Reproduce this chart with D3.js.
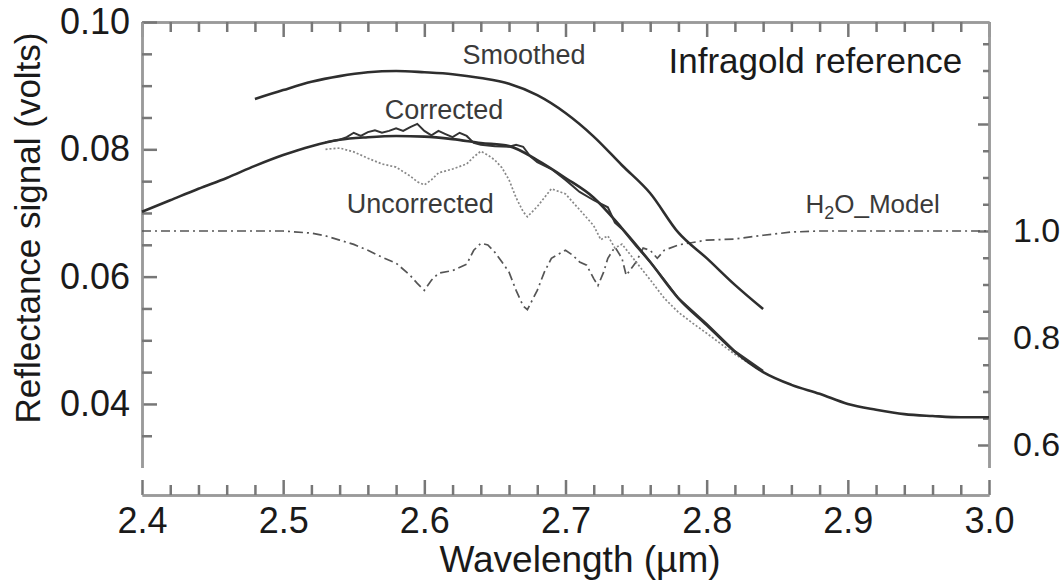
<!DOCTYPE html>
<html>
<head>
<meta charset="utf-8">
<script src="https://cdn.jsdelivr.net/npm/d3@7"></script>
<style>
    body { margin: 0; background: #fff; }
    svg { font-family: "Liberation Sans", Arial, Helvetica, sans-serif; }
</style>
</head>
<body>
<div class="chart"></div>
<script>
// reference curve (thick, full range)
const refWavelength = [2.40, 2.42, 2.44, 2.46, 2.48, 2.50, 2.52, 2.54, 2.56, 2.58, 2.60, 2.62, 2.64, 2.66, 2.68, 2.70, 2.72, 2.74, 2.76, 2.78, 2.80, 2.82, 2.84, 2.86, 2.88, 2.90, 2.92, 2.94, 2.96, 2.98, 3.00];
const refSignal = [0.0702, 0.0720, 0.0738, 0.0755, 0.0774, 0.0791, 0.0805, 0.0815, 0.0819, 0.0821, 0.0820, 0.0816, 0.0810, 0.0805, 0.0783, 0.0755, 0.0724, 0.0676, 0.0623, 0.0566, 0.0524, 0.0482, 0.0450, 0.0430, 0.0416, 0.0400, 0.0391, 0.0384, 0.0381, 0.0379, 0.0379];

// smoothed
const smoothWavelength = [2.48, 2.50, 2.52, 2.54, 2.56, 2.58, 2.60, 2.62, 2.64, 2.66, 2.68, 2.70, 2.72, 2.74, 2.76, 2.78, 2.80, 2.82, 2.84];
const smoothSignal = [0.0879, 0.0893, 0.0906, 0.0915, 0.0921, 0.0923, 0.0921, 0.0918, 0.0912, 0.0903, 0.0885, 0.0857, 0.0820, 0.0775, 0.0731, 0.0669, 0.0629, 0.0587, 0.0549];

// corrected
const corrWavelength = [2.530, 2.535, 2.540, 2.545, 2.550, 2.555, 2.560, 2.565, 2.570, 2.575, 2.580, 2.585, 2.590, 2.595, 2.600, 2.605, 2.610, 2.615, 2.620, 2.625, 2.630, 2.635, 2.640, 2.650, 2.660, 2.665, 2.670, 2.675, 2.680, 2.690, 2.700, 2.710, 2.720, 2.730, 2.735, 2.740, 2.750, 2.760, 2.770, 2.780, 2.800, 2.820, 2.840];
const corrSignal = [0.0811, 0.0813, 0.0815, 0.0819, 0.0826, 0.0821, 0.0827, 0.0830, 0.0826, 0.0829, 0.0833, 0.0829, 0.0835, 0.0840, 0.0829, 0.0822, 0.0829, 0.0824, 0.0819, 0.0826, 0.0821, 0.0810, 0.0807, 0.0805, 0.0804, 0.0807, 0.0804, 0.0789, 0.0780, 0.0769, 0.0752, 0.0733, 0.0720, 0.0709, 0.0685, 0.0675, 0.0648, 0.0623, 0.0595, 0.0566, 0.0526, 0.0483, 0.0452];

// uncorrected
const uncorrWavelength = [2.530, 2.540, 2.550, 2.560, 2.570, 2.580, 2.590, 2.595, 2.600, 2.605, 2.610, 2.620, 2.630, 2.635, 2.640, 2.645, 2.650, 2.655, 2.660, 2.665, 2.670, 2.673, 2.680, 2.690, 2.700, 2.710, 2.720, 2.725, 2.730, 2.735, 2.740, 2.750, 2.760, 2.770, 2.780, 2.790, 2.800, 2.820, 2.840];
const uncorrSignal = [0.0800, 0.0802, 0.0796, 0.0786, 0.0777, 0.0772, 0.0758, 0.0749, 0.0744, 0.0752, 0.0763, 0.0769, 0.0777, 0.0788, 0.0797, 0.0791, 0.0783, 0.0771, 0.0752, 0.0724, 0.0702, 0.0694, 0.0710, 0.0738, 0.0730, 0.0705, 0.0680, 0.0658, 0.0664, 0.0645, 0.0651, 0.0623, 0.0595, 0.0566, 0.0544, 0.0527, 0.0511, 0.0478, 0.0450];

// H2O model transmission (right axis)
const h2oWavelength = [2.40, 2.50, 2.52, 2.53, 2.54, 2.55, 2.56, 2.57, 2.58, 2.59, 2.595, 2.60, 2.605, 2.61, 2.62, 2.63, 2.635, 2.64, 2.645, 2.65, 2.655, 2.66, 2.665, 2.67, 2.673, 2.68, 2.685, 2.69, 2.70, 2.705, 2.71, 2.715, 2.72, 2.723, 2.727, 2.73, 2.735, 2.74, 2.743, 2.75, 2.755, 2.76, 2.765, 2.77, 2.78, 2.80, 2.82, 2.84, 2.86, 2.88, 3.00];
const h2oModel = [1.000, 1.000, 0.996, 0.991, 0.983, 0.975, 0.964, 0.951, 0.940, 0.917, 0.902, 0.889, 0.908, 0.921, 0.926, 0.938, 0.964, 0.977, 0.974, 0.960, 0.942, 0.923, 0.889, 0.860, 0.853, 0.889, 0.923, 0.949, 0.964, 0.955, 0.942, 0.936, 0.911, 0.898, 0.923, 0.949, 0.970, 0.949, 0.917, 0.942, 0.968, 0.964, 0.949, 0.964, 0.974, 0.983, 0.985, 0.992, 0.998, 1.000, 1.000];

// ticks
const xMajorTicks = [2.4, 2.5, 2.6, 2.7, 2.8, 2.9, 3.0];
const xTickLabels = ["2.4", "2.5", "2.6", "2.7", "2.8", "2.9", "3.0"];
const leftMajorTicks = [0.04, 0.06, 0.08, 0.10];
const leftTickLabels = ["0.04", "0.06", "0.08", "0.10"];
const rightMajorTicks = [0.6, 0.8, 1.0, 1.2];
const rightTickLabels = ["0.6", "0.8", "1.0", ""];

// curve labels [text, wavelength, signal]
const curveLabels = [
    ["Smoothed", 2.627, 0.0934],
    ["Corrected", 2.572, 0.0848],
    ["Uncorrected", 2.545, 0.0700]
];

drawChart();

function drawChart() {
    const width = 1062;
    const height = 580;

    const svg = d3.select(".chart")
        .append("svg")
        .attr("width", width)
        .attr("height", height);

    const x = d3.scaleLinear().domain([2.4, 3.0]).range([142, 989]);
    const y = d3.scaleLinear().domain([0.03, 0.10]).range([467.6, 22]);
    const yRight = d3.scaleLinear().domain([0.6, 1.0]).range([445, 231]);
    const xAxisY = 495;

    const xMinor = d3.range(2.42, 3.0, 0.02).filter(v => Math.abs(v * 10 - Math.round(v * 10)) > 0.01);
    const leftMinor = d3.range(0.035, 0.10, 0.005).filter(v => Math.abs(v * 50 - Math.round(v * 50)) > 0.01);
    const rightMinor = d3.range(0.65, 1.4, 0.05).filter(v => Math.abs(v * 5 - Math.round(v * 5)) > 0.01);

    function styleAxis(g) {
        g.select(".domain").attr("stroke", "#9a9a9a").attr("stroke-width", 2.5);
        g.selectAll(".tick line").attr("stroke", "#777").attr("stroke-width", 2.5);
        g.selectAll(".tick text")
            .attr("fill", "#1a1a1a")
            .style("font-size", "36px");
    }

    // bottom axis
    svg.append("g").attr("transform", `translate(0,${xAxisY})`)
        .call(d3.axisBottom(x).tickValues(xMajorTicks)
            .tickFormat((d, i) => xTickLabels[i])
            .tickSizeInner(-15).tickSizeOuter(0).tickPadding(12))
        .call(styleAxis);
    svg.append("g").attr("transform", `translate(0,${xAxisY})`)
        .call(d3.axisBottom(x).tickValues(xMinor).tickFormat("").tickSizeInner(-10).tickSizeOuter(0))
        .call(styleAxis);

    // top axis
    svg.append("g").attr("transform", "translate(0,22)")
        .call(d3.axisTop(x).tickValues(xMajorTicks).tickFormat("").tickSizeInner(-15).tickSizeOuter(0))
        .call(styleAxis);
    svg.append("g").attr("transform", "translate(0,22)")
        .call(d3.axisTop(x).tickValues(xMinor).tickFormat("").tickSizeInner(-10).tickSizeOuter(0))
        .call(styleAxis);

    // left axis
    svg.append("g").attr("transform", "translate(142,0)")
        .call(d3.axisLeft(y).tickValues(leftMajorTicks)
            .tickFormat((d, i) => leftTickLabels[i])
            .tickSizeInner(-15).tickSizeOuter(0).tickPadding(12))
        .call(styleAxis);
    svg.append("g").attr("transform", "translate(142,0)")
        .call(d3.axisLeft(y).tickValues(leftMinor).tickFormat("").tickSizeInner(-10).tickSizeOuter(0))
        .call(styleAxis);

    // right axis (H2O model transmission)
    const yRightFull = yRight.copy().domain([yRight.invert(467.6), yRight.invert(22)]).range([467.6, 22]);
    const right = svg.append("g").attr("transform", "translate(989,0)")
        .call(d3.axisRight(yRightFull).tickValues(rightMajorTicks)
            .tickFormat((d, i) => rightTickLabels[i])
            .tickSizeInner(-11).tickSizeOuter(0).tickPadding(24))
        .call(styleAxis);
    right.selectAll(".tick text").style("font-size", "34px");
    svg.append("g").attr("transform", "translate(989,0)")
        .call(d3.axisRight(yRightFull).tickValues(rightMinor).tickFormat("").tickSizeInner(-6).tickSizeOuter(0))
        .call(styleAxis);

    // curves
    const lineLeft = d3.line().x(d => x(d[0])).y(d => y(d[1]));
    const lineRight = d3.line().x(d => x(d[0])).y(d => yRight(d[1]));
    const smoothLine = d3.line().curve(d3.curveMonotoneX).x(d => x(d[0])).y(d => y(d[1]));

    svg.append("path")
        .datum(d3.zip(h2oWavelength, h2oModel))
        .attr("d", lineRight)
        .attr("fill", "none")
        .attr("stroke", "#555")
        .attr("stroke-width", 1.7)
        .attr("stroke-dasharray", "9,4,2,4");

    svg.append("path")
        .datum(d3.zip(uncorrWavelength, uncorrSignal))
        .attr("d", lineLeft)
        .attr("fill", "none")
        .attr("stroke", "#888")
        .attr("stroke-width", 1.7)
        .attr("stroke-dasharray", "2,2");

    svg.append("path")
        .datum(d3.zip(refWavelength, refSignal))
        .attr("d", smoothLine)
        .attr("fill", "none")
        .attr("stroke", "#2e2e2e")
        .attr("stroke-width", 2.6);

    svg.append("path")
        .datum(d3.zip(corrWavelength, corrSignal))
        .attr("d", lineLeft)
        .attr("fill", "none")
        .attr("stroke", "#333")
        .attr("stroke-width", 2);

    svg.append("path")
        .datum(d3.zip(smoothWavelength, smoothSignal))
        .attr("d", smoothLine)
        .attr("fill", "none")
        .attr("stroke", "#2e2e2e")
        .attr("stroke-width", 2.6);

    // labels on curves
    svg.selectAll(".curve-label")
        .data(curveLabels)
        .enter()
        .append("text")
        .attr("class", "curve-label")
        .attr("x", d => x(d[1]))
        .attr("y", d => y(d[2]))
        .text(d => d[0])
        .style("font-size", "27px")
        .attr("fill", "#3a3a3a");

    const h2oLabel = svg.append("text")
        .attr("x", x(2.870))
        .attr("y", y(0.0700))
        .style("font-size", "26px")
        .attr("fill", "#3a3a3a");
    h2oLabel.append("tspan").text("H");
    h2oLabel.append("tspan").text("2").attr("dy", 6).style("font-size", "18px");
    h2oLabel.append("tspan").text("O_Model").attr("dy", -6);

    svg.append("text")
        .attr("x", x(2.773))
        .attr("y", y(0.0920))
        .text("Infragold reference")
        .style("font-size", "35px")
        .attr("fill", "#1a1a1a");

    // axis titles
    svg.append("text")
        .attr("x", 580)
        .attr("y", 572)
        .attr("text-anchor", "middle")
        .text("Wavelength (µm)")
        .style("font-size", "37px")
        .attr("fill", "#1a1a1a");

    svg.append("text")
        .attr("transform", "translate(40,228) rotate(-90)")
        .attr("text-anchor", "middle")
        .text("Reflectance signal (volts)")
        .style("font-size", "35px")
        .attr("fill", "#1a1a1a");
}
</script>
</body>
</html>
